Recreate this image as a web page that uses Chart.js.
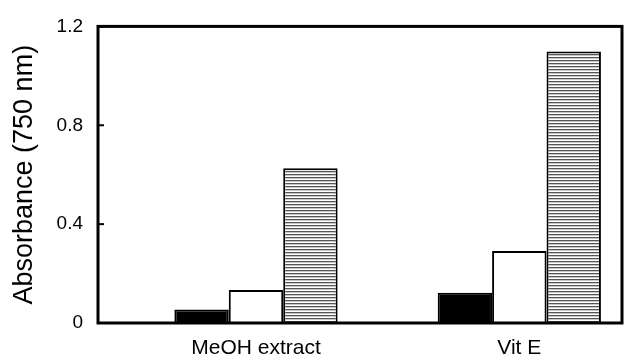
<!DOCTYPE html>
<html>
<head>
<meta charset="utf-8">
<script src="https://cdn.jsdelivr.net/npm/chart.js@4/dist/chart.umd.min.js"></script>
<style>
  html, body { margin: 0; padding: 0; background: #fff; }
  #wrap { width: 631px; height: 361px; }
</style>
</head>
<body>
<div id="wrap"><canvas id="chart" width="631" height="361"></canvas></div>
<script>
// datos
const categories = ['MeOH extract', 'Vit E'];
const solidValues = [0.055, 0.122];
const openValues = [0.134, 0.291];
const stripedValues = [0.626, 1.098];
const yTicks = [0, 0.4, 0.8, 1.2];

const FONT = "'Liberation Sans', Arial, sans-serif";

// relleno a rayas horizontales
const makeStripes = () => {
    const c = document.createElement('canvas');
    c.width = 4; c.height = 3;
    const g = c.getContext('2d');
    g.fillStyle = '#ffffff'; g.fillRect(0, 0, 4, 3);
    g.fillStyle = '#555555'; g.fillRect(0, 0, 4, 1);
    g.fillStyle = '#c8c8c8'; g.fillRect(0, 1, 4, 1);
    return g.createPattern(c, 'repeat');
};

const toPoints = (vals) => vals.map((v, i) => ({ x: i, y: v }));

// marco completo y marcas hacia dentro
const framePlugin = {
    id: 'frame',
    afterDatasetsDraw(chart) {
        const { ctx, chartArea: a, scales } = chart;
        ctx.save();
        ctx.strokeStyle = '#000';
        ctx.lineWidth = 3;
        ctx.strokeRect(a.left, a.top, a.right - a.left, a.bottom - a.top);
        ctx.lineWidth = 2;
        yTicks.forEach(t => {
            const y = scales.y.getPixelForValue(t);
            ctx.beginPath();
            ctx.moveTo(a.left, y);
            ctx.lineTo(a.left + 6, y);
            ctx.stroke();
        });
        ctx.restore();
    }
};

const ctx = document.getElementById('chart').getContext('2d');
new Chart(ctx, {
    type: 'bar',
    data: {
        datasets: [
            { label: 'a', data: toPoints(solidValues), backgroundColor: '#000', borderColor: '#000', borderWidth: 2 },
            { label: 'b', data: toPoints(openValues), backgroundColor: '#fff', borderColor: '#000', borderWidth: 2 },
            { label: 'c', data: toPoints(stripedValues), backgroundColor: makeStripes(), borderColor: '#000', borderWidth: 2 }
        ]
    },
    options: {
        responsive: false,
        animation: false,
        layout: { padding: { top: 18, right: 9, left: 0, bottom: 0 } },
        plugins: { legend: { display: false }, tooltip: { enabled: false } },
        datasets: { bar: { categoryPercentage: 0.62, barPercentage: 1.0 } },
        scales: {
            x: {
                type: 'linear',
                offset: false,
                min: -0.6,
                max: 1.39,
                afterBuildTicks: (scale) => { scale.ticks = categories.map((_, i) => ({ value: i })); },
                afterFit: (scale) => { scale.height = 38; },
                grid: { display: false, drawTicks: false },
                border: { display: false },
                ticks: {
                    padding: 13,
                    color: '#000',
                    font: { family: FONT, size: 21 },
                    callback: (v) => categories[v] ?? ''
                }
            },
            y: {
                min: 0,
                max: 1.2,
                afterBuildTicks: (scale) => { scale.ticks = yTicks.map(v => ({ value: v })); },
                afterFit: (scale) => { scale.width = 98; },
                grid: { display: false, drawTicks: false },
                border: { display: false },
                ticks: {
                    padding: 15,
                    color: '#000',
                    font: { family: FONT, size: 19 },
                    callback: (v) => String(Number(v.toFixed(1)))
                },
                title: {
                    display: true,
                    text: 'Absorbance (750 nm)',
                    color: '#000',
                    font: { family: FONT, size: 27 },
                    padding: { top: 8, bottom: 0 }
                }
            }
        }
    },
    plugins: [framePlugin]
});
</script>
</body>
</html>
